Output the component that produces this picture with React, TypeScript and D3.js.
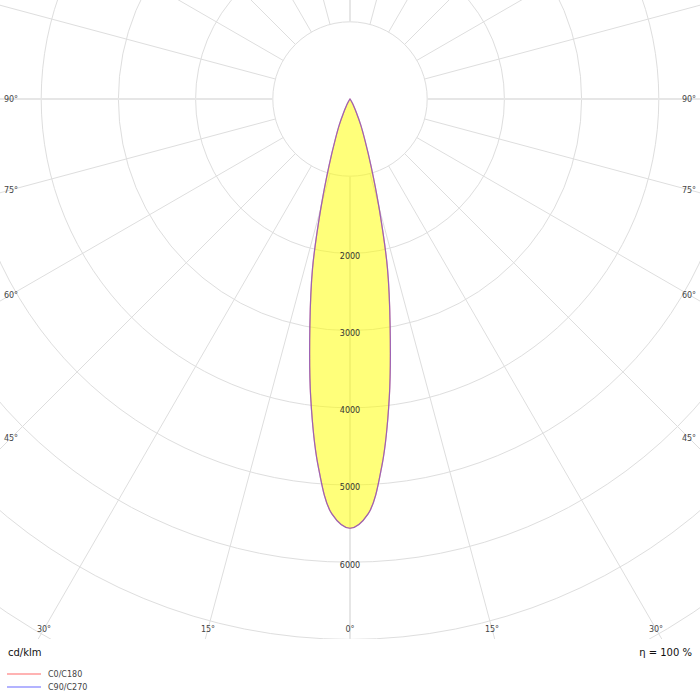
import React from "react";
import * as d3 from "d3";

// ---- data ----
const gammaAngles = [0, 2.5, 5, 7.5, 10, 12.5, 15, 17.5, 20, 22.5, 25, 27.5, 30, 35, 40];
const c0c180 = [5560, 5380, 4760, 3900, 2995, 2240, 1450, 900, 560, 360, 200, 110, 60, 15, 0];
const c90c270 = [5560, 5380, 4760, 3900, 2995, 2240, 1450, 900, 560, 360, 200, 110, 60, 15, 0];
const ringValues = [1000, 2000, 3000, 4000, 5000, 6000, 7000, 8000, 9000, 10000];
const ringLabels = [2000, 3000, 4000, 5000, 6000];
const sideAngleLabels = [90, 75, 60, 45];
const bottomAngleLabels = [30, 15, 0];
const unitLabel = "cd/klm";
const efficiencyLabel = "η = 100 %";
const legendNames = ["C0/C180", "C90/C270"];
const legendColors = ["#ffb3b3", "#b3b3ff"];

const W = 700;
const H = 700;
const cx = 350;
const cy = 99;
const plotBottom = 639;
const font = "'DejaVu Sans', Verdana, sans-serif";

const r = d3.scaleLinear().domain([0, 1000]).range([0, 77.2]);

function curvePath(vals: number[]) {
  type P = [number, number];
  const pts: P[] = [];
  for (let i = gammaAngles.length - 1; i >= 1; i--) {
    if (vals[i] > 0) pts.push([-gammaAngles[i], vals[i]]);
  }
  pts.push([0, vals[0]]);
  for (let i = 1; i < gammaAngles.length; i++) {
    if (vals[i] > 0) pts.push([gammaAngles[i], vals[i]]);
  }
  const all: P[] = [[-40, 0], ...pts, [40, 0]];
  const line = d3
    .lineRadial<P>()
    .angle((d) => Math.PI - (d[0] * Math.PI) / 180)
    .radius((d) => r(d[1]))
    .curve(d3.curveCatmullRom.alpha(0.5));
  return line(all) + "Z";
}

export default function App() {
  const spokes = d3.range(0, 360, 15);
  const path0 = curvePath(c0c180);
  const path90 = curvePath(c90c270);
  return (
    <svg
      width={W}
      height={H}
      style={{ position: "absolute", left: 0, top: 0, background: "#fff" }}
      fontFamily={font}
    >
      <defs>
        <clipPath id="plotclip">
          <rect x={0} y={0} width={W} height={plotBottom} />
        </clipPath>
      </defs>
      <g clipPath="url(#plotclip)">
        <g transform={`translate(${cx},${cy})`}>
          {ringValues.map((v) => (
            <circle key={v} r={r(v)} fill="none" stroke="#dedede" strokeWidth={1} />
          ))}
          {spokes.map((a) => {
            const rad = (a * Math.PI) / 180;
            const main = a % 90 === 0;
            const r0 = r(1000);
            const r1 = 1000;
            return (
              <line
                key={a}
                x1={r0 * Math.sin(rad)}
                y1={r0 * Math.cos(rad)}
                x2={r1 * Math.sin(rad)}
                y2={r1 * Math.cos(rad)}
                stroke={main ? "#e6e6e6" : "#dedede"}
                strokeWidth={main ? 2 : 1}
              />
            );
          })}
          <path d={path0} fill="#ffff00" fillOpacity={0.52} stroke="none" />
          <path d={path0} fill="none" stroke="#e06060" strokeWidth={1.2} strokeOpacity={0.8} />
          <path d={path90} fill="none" stroke="#6a4ee0" strokeWidth={1.2} strokeOpacity={0.6} />
          {ringLabels.map((v) => (
            <text
              key={v}
              x={0}
              y={r(v) + 2.5}
              dy="0.35em"
              textAnchor="middle"
              fontSize={8}
              fill="#333"
            >
              {v}
            </text>
          ))}
        </g>
      </g>
      {sideAngleLabels.map((a) => {
        const dx = 339;
        const y = cy + dx / Math.tan((a * Math.PI) / 180);
        return (
          <g key={a}>
            <text x={cx - dx} y={y} dy="0.35em" textAnchor="middle" fontSize={8} fill="#444">
              {a}°
            </text>
            <text x={cx + dx} y={y} dy="0.35em" textAnchor="middle" fontSize={8} fill="#444">
              {a}°
            </text>
          </g>
        );
      })}
      {bottomAngleLabels.map((a) => {
        const yl = 629;
        const x = (cy - yl) * Math.tan((a * Math.PI) / 180);
        return (
          <g key={a}>
            <text x={cx + x} y={yl} dy="0.35em" textAnchor="middle" fontSize={8} fill="#444">
              {a}°
            </text>
            {a !== 0 && (
              <text x={cx - x} y={yl} dy="0.35em" textAnchor="middle" fontSize={8} fill="#444">
                {a}°
              </text>
            )}
          </g>
        );
      })}
      <text x={8} y={656} fontSize={10} fill="#111">
        {unitLabel}
      </text>
      <text x={692} y={656} fontSize={10} fill="#111" textAnchor="end">
        {efficiencyLabel}
      </text>
      {legendNames.map((n, i) => (
        <g key={n} transform={`translate(0,${674 + i * 13})`}>
          <line x1={7} x2={41} y1={0} y2={0} stroke={legendColors[i]} strokeWidth={2} />
          <text x={48} y={0} dy="0.35em" fontSize={8} fill="#444">
            {n}
          </text>
        </g>
      ))}
    </svg>
  );
}
